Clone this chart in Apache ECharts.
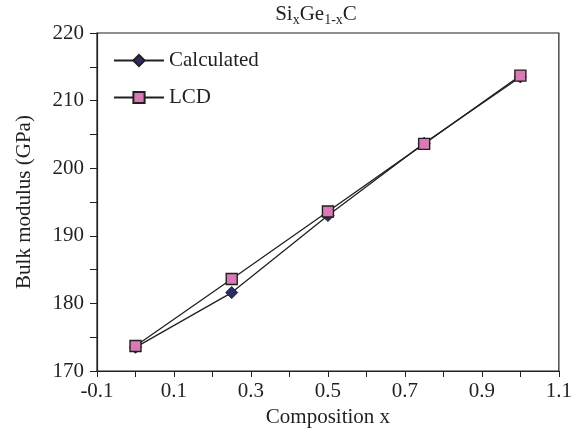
<!DOCTYPE html>
<html>
<head>
<meta charset="utf-8">
<script src="https://cdn.jsdelivr.net/npm/echarts@6/dist/echarts.min.js"></script>
<style>
  html, body { margin: 0; padding: 0; background: #fff; }
  #chart { width: 575px; height: 433px; }
</style>
</head>
<body>
<div id="chart"></div>
<script>
// Composition x of SixGe1-xC
const composition = [0, 0.25, 0.5, 0.75, 1.0];
// Bulk modulus (GPa)
const calculated = [173.5, 181.6, 193.0, 203.7, 213.5];
const lcd = [173.7, 183.6, 193.6, 203.6, 213.7];

const FONT = '"Liberation Serif", "Times New Roman", serif';
const INK = '#231f20';
const FS = 21;

const chart = echarts.init(document.getElementById('chart'));

chart.setOption({
  animation: false,
  backgroundColor: '#fff',
  textStyle: { fontFamily: FONT, color: INK },
  title: {
    text: '{m|Si}{s|x}{m|Ge}{s|1-x}{m|C}',
    left: 316,
    textAlign: 'center',
    top: 1,
    padding: 0,
    textStyle: {
      rich: {
        m: { fontFamily: FONT, fontSize: FS, color: INK, fontWeight: 'normal' },
        s: { fontFamily: FONT, fontSize: 14, color: INK, fontWeight: 'normal', verticalAlign: 'bottom', padding: [12, 0, 0, 0] }
      }
    }
  },
  legend: {
    orient: 'vertical',
    left: 113,
    top: 50,
    padding: 0,
    itemWidth: 50,
    itemHeight: 14,
    itemGap: 16,
    textStyle: { fontFamily: FONT, fontSize: FS, color: INK },
    data: ['Calculated', 'LCD']
  },
  grid: {
    left: 97, right: 16, top: 33, bottom: 62,
    show: true, borderColor: INK, borderWidth: 1.2, backgroundColor: 'transparent'
  },
  xAxis: {
    type: 'value',
    min: -0.1, max: 1.1, interval: 0.1,
    name: 'Composition x',
    nameLocation: 'middle',
    nameGap: 35,
    nameTextStyle: { fontFamily: FONT, fontSize: FS, color: INK },
    axisLine: { onZero: false, lineStyle: { color: INK, width: 1.2 } },
    axisTick: { show: true, length: 6, inside: false, lineStyle: { color: INK } },
    axisLabel: {
      fontFamily: FONT, fontSize: FS, color: INK, margin: 10,
      formatter: v => (Math.round(v * 10) % 2 !== 0 ? v.toFixed(1) : '')
    },
    splitLine: { show: false }
  },
  yAxis: {
    type: 'value',
    min: 170, max: 220, interval: 5,
    name: 'Bulk modulus (GPa)',
    nameLocation: 'middle',
    nameGap: 62,
    nameTextStyle: { fontFamily: FONT, fontSize: FS, color: INK },
    axisLine: { show: true, onZero: false, lineStyle: { color: INK, width: 1.2 } },
    axisTick: { show: true, length: 7, inside: false, lineStyle: { color: INK } },
    axisLabel: {
      fontFamily: FONT, fontSize: FS, color: INK, margin: 13,
      formatter: v => (Math.round(v) % 10 === 0 ? String(Math.round(v)) : '')
    },
    splitLine: { show: false }
  },
  series: [
    {
      name: 'Calculated',
      type: 'line',
      data: composition.map((x, i) => [x, calculated[i]]),
      symbol: 'diamond',
      symbolSize: 12,
      lineStyle: { color: INK, width: 1.3 },
      itemStyle: { color: '#2b2d66', borderColor: INK, borderWidth: 1 }
    },
    {
      name: 'LCD',
      type: 'line',
      data: composition.map((x, i) => [x, lcd[i]]),
      symbol: 'rect',
      symbolSize: 11,
      lineStyle: { color: INK, width: 1.3 },
      itemStyle: { color: '#d97ab6', borderColor: INK, borderWidth: 1.4 }
    }
  ]
});
</script>
</body>
</html>
